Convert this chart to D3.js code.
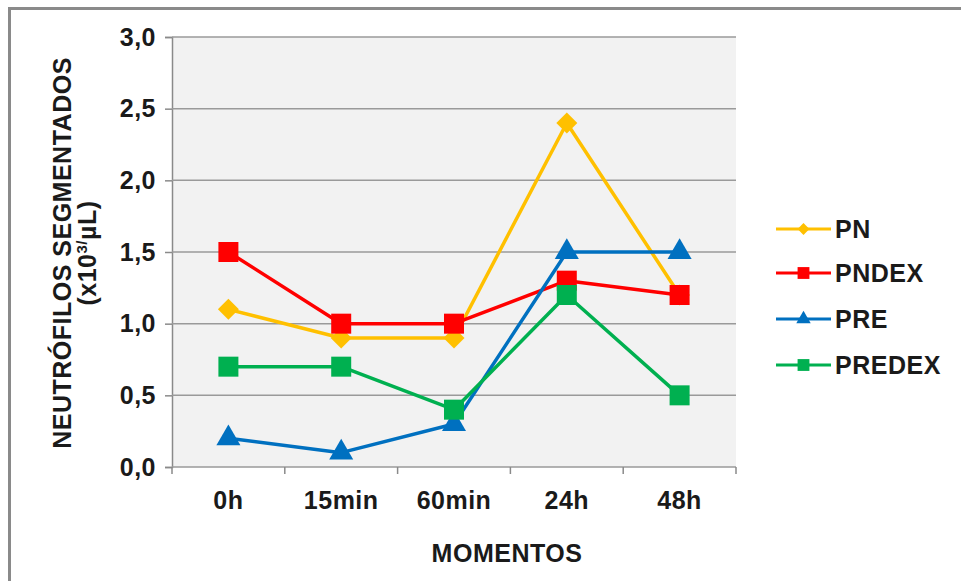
<!DOCTYPE html>
<html>
<head>
<meta charset="utf-8">
<script src="https://cdn.jsdelivr.net/npm/d3@7"></script>
<style>
  body { margin: 0; background: #fff; }
  text { font-family: "Liberation Sans", Arial, sans-serif; font-weight: bold; fill: #1a1a1a; letter-spacing: 0.5px; }
</style>
</head>
<body>
<div id="chart"></div>
<script>
// data
const moments = ["0h", "15min", "60min", "24h", "48h"];
const seriesNames = ["PN", "PNDEX", "PRE", "PREDEX"];
const pn = [1.1, 0.9, 0.9, 2.4, 1.2];
const pndex = [1.5, 1.0, 1.0, 1.3, 1.2];
const pre = [0.2, 0.1, 0.3, 1.5, 1.5];
const predex = [0.7, 0.7, 0.4, 1.2, 0.5];
const yTicks = [0, 0.5, 1.0, 1.5, 2.0, 2.5, 3.0];

const colors = ["#FFC000", "#FF0000", "#0070C0", "#00B050"];
const shapes = ["diamond", "square", "triangle", "square"];
const allValues = [pn, pndex, pre, predex];

let width = 961, height = 581;
let margin = {top: 37, left: 172, right: 225, bottom: 114};
let fs = 25;

let svg = d3.select("#chart").append("svg")
  .attr("width", width)
  .attr("height", height);

// outer frame (cropped on right/bottom)
svg.append("rect")
  .attr("x", 9.5).attr("y", 8.5)
  .attr("width", 1000).attr("height", 1000)
  .attr("fill", "#fff")
  .attr("stroke", "#8a8a8a")
  .attr("stroke-width", 3);

let x = d3.scaleBand().domain(moments).range([margin.left, width - margin.right]).padding(0);
let y = d3.scaleLinear().domain([0, 3]).range([height - margin.bottom, margin.top]);

// plot background
svg.append("rect")
  .attr("x", margin.left).attr("y", y(3))
  .attr("width", x.range()[1] - margin.left)
  .attr("height", y(0) - y(3))
  .attr("fill", "#f2f2f2");

// y axis
let yAxis = svg.append("g")
  .attr("transform", "translate(" + margin.left + ",0)")
  .call(d3.axisLeft(y).tickValues(yTicks)
    .tickSize(7)
    .tickFormat(d => d3.format(".1f")(d).replace(".", ",")));
yAxis.select(".domain").attr("stroke", "#8a8a8a").attr("stroke-width", 1.5);
yAxis.selectAll(".tick line").attr("stroke", "#8a8a8a").attr("stroke-width", 1.5);
yAxis.selectAll(".tick text").attr("x", -16).attr("font-size", fs);

// gridlines
svg.append("g").selectAll("line")
  .data(yTicks)
  .enter().append("line")
  .attr("x1", margin.left).attr("x2", x.range()[1])
  .attr("y1", d => y(d)).attr("y2", d => y(d))
  .attr("stroke", "#9a9a9a")
  .attr("stroke-width", 1.5);

// x axis
let xAxis = svg.append("g")
  .attr("transform", "translate(0," + y(0) + ")")
  .call(d3.axisBottom(x).tickSize(0).tickPadding(24));
xAxis.select(".domain").remove();
xAxis.selectAll(".tick text").attr("font-size", fs);

let edges = moments.map(m => x(m)).concat([x.range()[1]]);
svg.append("g").selectAll("line")
  .data(edges)
  .enter().append("line")
  .attr("x1", d => d).attr("x2", d => d)
  .attr("y1", y(0)).attr("y2", y(0) + 7)
  .attr("stroke", "#8a8a8a")
  .attr("stroke-width", 1.5);

function symbolPath(shape, big) {
  if (shape == "diamond") return d3.symbol(d3.symbolSquare, big ? 220 : 70)();
  if (shape == "triangle") return d3.symbol(d3.symbolTriangle, big ? 250 : 90)();
  return d3.symbol(d3.symbolSquare, big ? 400 : 140)();
}

let line = d3.line()
  .x((d, i) => x(moments[i]) + x.bandwidth() / 2)
  .y(d => y(d));

allValues.forEach(function(vals, k) {
  let g = svg.append("g");
  g.append("path")
    .attr("d", line(vals))
    .attr("fill", "none")
    .attr("stroke", colors[k])
    .attr("stroke-width", 3.5)
    .attr("stroke-linejoin", "round");
  g.selectAll(".pt")
    .data(vals)
    .enter().append("path")
    .attr("class", "pt")
    .attr("d", symbolPath(shapes[k], true))
    .attr("fill", colors[k])
    .attr("transform", function(d, i) {
      let t = "translate(" + (x(moments[i]) + x.bandwidth() / 2) + "," + y(d) + ")";
      if (shapes[k] == "diamond") t += " rotate(45)";
      return t;
    });
});

// legend
let legendY = [229, 273, 319, 365];
let legend = svg.selectAll(".legend")
  .data(seriesNames)
  .enter().append("g")
  .attr("class", "legend")
  .attr("transform", (d, i) => "translate(776," + legendY[i] + ")");

legend.append("line")
  .attr("x1", 0).attr("x2", 55)
  .attr("stroke", (d, i) => colors[i])
  .attr("stroke-width", 3);
legend.append("path")
  .attr("d", (d, i) => symbolPath(shapes[i], false))
  .attr("fill", (d, i) => colors[i])
  .attr("transform", (d, i) => "translate(27.5,0)" + (shapes[i] == "diamond" ? " rotate(45)" : ""));
legend.append("text")
  .attr("x", 59)
  .attr("dy", "0.36em")
  .attr("font-size", fs)
  .text(d => d);

// axis titles
svg.append("text")
  .attr("transform", "translate(71,253) rotate(-90)")
  .attr("text-anchor", "middle")
  .attr("font-size", fs)
  .text("NEUTRÓFILOS  SEGMENTADOS");

let unit = svg.append("text")
  .attr("transform", "translate(96,253) rotate(-90)")
  .attr("text-anchor", "middle")
  .attr("font-size", fs);
unit.append("tspan").text("(x10");
unit.append("tspan").attr("font-size", 15).attr("dy", -9).text("3/");
unit.append("tspan").attr("dy", 9).text("µL)");

svg.append("text")
  .attr("x", 507).attr("y", 562)
  .attr("text-anchor", "middle")
  .attr("font-size", fs)
  .text("MOMENTOS");
</script>
</body>
</html>
